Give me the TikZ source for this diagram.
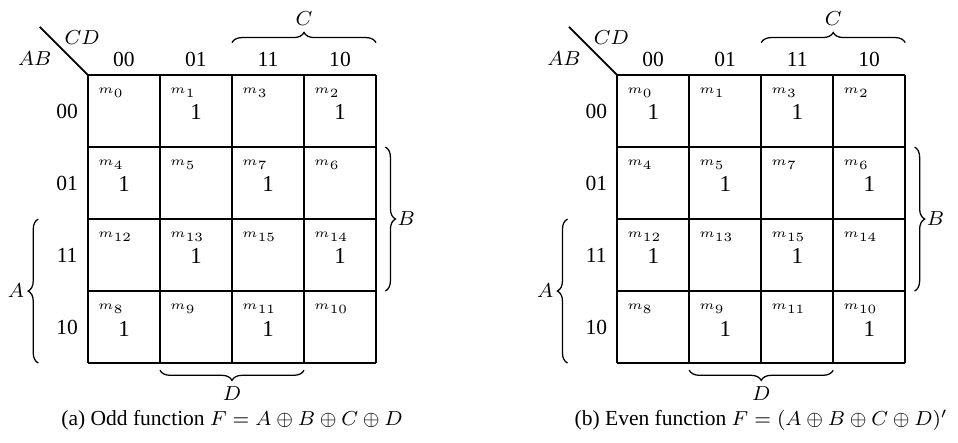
\documentclass[tikz,border=0pt]{standalone}
\usepackage{fontspec}
\setmainfont{Liberation Serif}
\usepackage{tikz}
\usetikzlibrary{calc, positioning, decorations.pathreplacing}

\tikzset{
  kgrid/.style={line width=0.9pt},
  kbrace/.style={decorate, decoration={brace, amplitude=4pt}, line width=0.5pt},
  mlabel/.style={font=\fontsize{5}{6}\selectfont, anchor=north west, inner sep=1pt},
  onecell/.style={font=\fontsize{9}{10}\selectfont},
}

\begin{document}
\begin{tikzpicture}[x=1cm, y=1cm, font=\fontsize{8.5}{10}\selectfont]
    \useasboundingbox (-1.222,1.042) rectangle (12.083,-5.097);

    % both maps: name / shift / parity of the 1-cells / caption
    \foreach \mp/\ox/\odd/\cap in {a/0/1/{(a) Odd function $F = A \oplus B \oplus C \oplus D$},
                                  b/7.35/0/{(b) Even function $F = (A \oplus B \oplus C \oplus D)'$}} {
    \begin{scope}[shift={(\ox,0)}]
        % Grid
        \draw[kgrid] (0,-4) grid (4,0);
        \coordinate (\mp-corner) at (0,0);
        \coordinate (\mp-diag) at (-0.67,0.67);
        \draw[line width=0.7pt] (\mp-diag) -- (\mp-corner);
        \node (\mp-cd) at (-0.08,0.52) {$CD$};
        \node (\mp-ab) at (-0.74,0.23) {$AB$};

        % Column and row codes
        \foreach \c [count=\i from 0] in {00,01,11,10}
            \node (\mp-col\i) at (\i+0.5,0.22) {\c};
        \foreach \r [count=\i from 0] in {00,01,11,10}
            \node (\mp-row\i) at (-0.29,-\i-0.5) {\r};

        % Cells
        \foreach \rv/\pr [count=\i from 0] in {0/0,4/1,12/0,8/1} {
            \foreach \cv/\pc [count=\j from 0] in {0/0,1/1,3/0,2/1} {
                \pgfmathtruncatemacro\mt{\rv+\cv}
                \pgfmathtruncatemacro\pp{mod(\pr+\pc,2)}
                \node[mlabel] (\mp-m\mt) at (\j+0.1,-\i-0.14) {$m_{\mt}$};
                \ifnum\pp=\odd
                    \node[onecell] (\mp-v\mt) at (\j+0.5,-\i-0.52) {1};
                \fi
            }
        }

        % Braces
        \coordinate (\mp-cs) at (2,0.45);
        \coordinate (\mp-ce) at (4,0.45);
        \draw[kbrace] (\mp-cs) -- (\mp-ce);
        \node (\mp-c) at (3,0.79) {$C$};

        \coordinate (\mp-bs) at (4.13,-1);
        \coordinate (\mp-be) at (4.13,-3);
        \draw[kbrace] (\mp-bs) -- (\mp-be);
        \node (\mp-b) at (4.42,-2) {$B$};

        \coordinate (\mp-as) at (-0.69,-4);
        \coordinate (\mp-ae) at (-0.69,-2);
        \draw[kbrace] (\mp-as) -- (\mp-ae);
        \node (\mp-a) at (-1.0,-3) {$A$};

        \coordinate (\mp-ds) at (3,-4.1);
        \coordinate (\mp-de) at (1,-4.1);
        \draw[kbrace] (\mp-ds) -- (\mp-de);
        \node[inner sep=1pt] (\mp-d) at (2,-4.43) {$D$};

        % Caption
        \node[inner sep=1pt] (\mp-cap) at (2,-4.8) {\cap};
    \end{scope}
    }
\end{tikzpicture}
\end{document}
